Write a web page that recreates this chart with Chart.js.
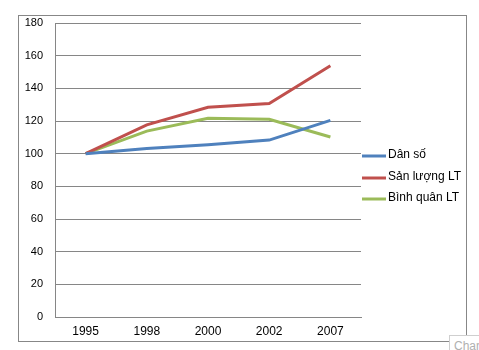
<!DOCTYPE html>
<html><head><meta charset="utf-8">
<script src="https://cdn.jsdelivr.net/npm/chart.js@4/dist/chart.umd.min.js"></script>
<style>
html,body{margin:0;padding:0;background:#fff;}
#wrap{position:relative;width:479px;height:350px;}
#tip{position:absolute;left:449px;top:335px;width:40px;height:20px;border:1px solid #cfcfcf;background:#fff;font:12px "Liberation Sans",Arial,sans-serif;color:#b0b0b0;padding:3px 0 0 4px;box-sizing:border-box;}
</style></head>
<body><div id="wrap"><canvas id="c" width="479" height="350"></canvas><div id="tip">Char</div></div>
<script>
const years = ["1995","1998","2000","2002","2007"];
const seriesNames = ["Dân số","Sản lượng LT","Bình quân LT"];
const danSo = [100, 103.2, 105.4, 108.3, 120.4];
const sanLuong = [100, 117.6, 128.4, 130.7, 153.8];
const binhQuan = [100, 113.8, 121.7, 121.0, 110.2];
const colors = ["#4F81BD","#C0504D","#9BBB59"];

const FONT = "'Liberation Sans', Arial, sans-serif";

const frame = {
  id:'frame',
  afterDraw(chart){
    const ctx = chart.ctx;
    ctx.save();
    ctx.strokeStyle = '#878787';
    ctx.lineWidth = 1;
    ctx.strokeRect(18.5,15.5,448,326);
    const a = chart.chartArea;
    const ys = [156,178,199];
    ctx.font = "12px " + FONT;
    ctx.textBaseline = 'middle';
    chart.data.datasets.forEach((ds,i)=>{
      ctx.strokeStyle = ds.borderColor;
      ctx.lineWidth = 3;
      ctx.beginPath();
      ctx.moveTo(a.right+1, ys[i]);
      ctx.lineTo(a.right+25, ys[i]);
      ctx.stroke();
      ctx.fillStyle = '#000';
      ctx.fillText(ds.label, a.right+27, ys[i]-1);
    });
    ctx.restore();
  }
};

new Chart(document.getElementById('c'), {
  type:'line',
  data:{
    labels: years,
    datasets:[
      {label:seriesNames[0], data:danSo, borderColor:colors[0], backgroundColor:colors[0]},
      {label:seriesNames[1], data:sanLuong, borderColor:colors[1], backgroundColor:colors[1]},
      {label:seriesNames[2], data:binhQuan, borderColor:colors[2], backgroundColor:colors[2]}
    ]
  },
  options:{
    responsive:false,
    animation:false,
    devicePixelRatio:1,
    elements:{point:{radius:0}, line:{borderWidth:3, tension:0}},
    layout:{padding:{left:0, right:118, top:23, bottom:0}},
    plugins:{legend:{display:false}, tooltip:{enabled:false}},
    scales:{
      x:{
        offset:true,
        grid:{display:false, drawTicks:false},
        border:{display:true, color:'#868686'},
        ticks:{color:'#000', font:{family:FONT, size:12}, padding:7, maxRotation:0},
        afterFit(s){ s.height = 33; }
      },
      y:{
        min:0, max:180,
        ticks:{stepSize:20, color:'#000', font:{family:FONT, size:11}, padding:12},
        grid:{color:'#868686', drawTicks:false},
        border:{display:true, color:'#868686'},
        afterFit(s){ s.width = 55; }
      }
    }
  },
  plugins:[frame]
});
</script></body></html>
